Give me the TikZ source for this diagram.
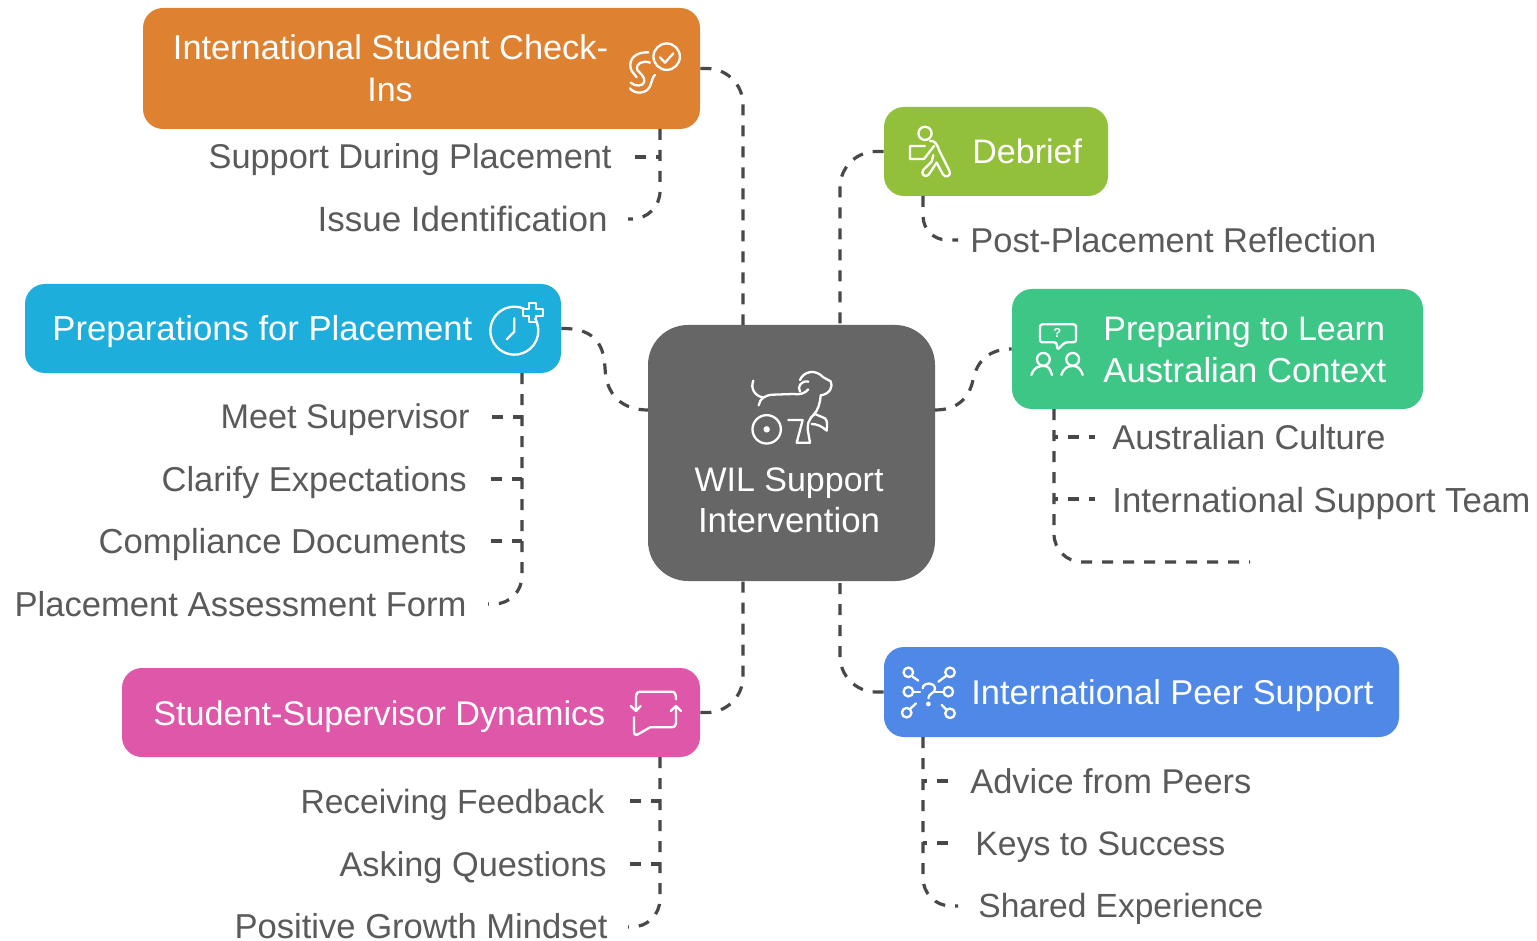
\documentclass[tikz,border=0pt]{standalone}
\usepackage{fontspec}
\usepackage{graphicx}
\setmainfont{Liberation Sans}
\newlength{\fitlen}
\newcommand{\fitw}[2]{\setlength{\fitlen}{#1pt}\resizebox{0.5\fitlen}{!}{#2}}
\begin{document}
\begin{tikzpicture}[x=0.5pt,y=-0.5pt,
  fontbase/.style={font=\fontsize{17pt}{21pt}\selectfont},
  box/.style={rounded corners=10pt,inner sep=0pt,text=white,align=center,fontbase},
  lab/.style={inner sep=0pt,text=labgray,fontbase},
  conn/.style={draw=conngray,line width=1.6pt,dash pattern=on 5.5pt off 5pt,rounded corners=18pt},
  branch/.style={conn,rounded corners=0pt},
  icon/.style={draw=white,line width=1.15pt,line cap=round,line join=round},
  zoomed/.style={x=0.16667pt,y=-0.16667pt}
]
\definecolor{labgray}{HTML}{5A5A5A}
\definecolor{conngray}{HTML}{484848}
\definecolor{corange}{HTML}{DE8231}
\definecolor{cgreen}{HTML}{93C03B}
\definecolor{cblue}{HTML}{1EAEDB}
\definecolor{cteal}{HTML}{3EC687}
\definecolor{chub}{HTML}{666666}
\definecolor{cpink}{HTML}{DF57A8}
\definecolor{cpeer}{HTML}{4F88E6}
\useasboundingbox (0,0) rectangle (1537,941);
\fill[white] (0,0) rectangle (1537,941);

% boxes
\node[box,fill=corange,minimum width=278.5pt,minimum height=60.5pt] (checkin) at (421.5,68.5) {};
\node[box,fill=cgreen,minimum width=112pt,minimum height=44.5pt] (debrief) at (996,151.5) {};
\node[box,fill=cblue,minimum width=268pt,minimum height=44.5pt] (prep) at (293,328.5) {};
\node[box,fill=cteal,minimum width=205.5pt,minimum height=60pt] (learn) at (1217.5,349) {};
\node[box,fill=chub,rounded corners=20pt,minimum width=143.5pt,minimum height=128pt] (hub) at (791.5,453) {};
\node[box,fill=cpink,minimum width=289pt,minimum height=44.5pt] (dyn) at (411,712.5) {};
\node[box,fill=cpeer,minimum width=257.5pt,minimum height=45pt] (peer) at (1141.5,692) {};

% box texts
\node[lab,text=white,anchor=base] (tcheck1) at (390.5,60) {\fitw{435}{International Student Check-}};
\node[lab,text=white,anchor=base] (tcheck2) at (390,102) {Ins};
\node[lab,text=white,anchor=base west] (tdebrief) at (972,164) {Debrief};
\node[lab,text=white,anchor=base west] (tprep) at (52,341) {\fitw{420}{Preparations for Placement}};
\node[lab,text=white,anchor=base west] (tlearn1) at (1103,341) {Preparing to Learn};
\node[lab,text=white,anchor=base west] (tlearn2) at (1103,382) {\fitw{283}{Australian Context}};
\node[lab,text=white,anchor=base] (thub1) at (789,491) {WIL Support};
\node[lab,text=white,anchor=base] (thub2) at (789,532) {\fitw{182}{Intervention}};
\node[lab,text=white,anchor=base west] (tdyn) at (153,725) {\fitw{452}{Student-Supervisor Dynamics}};
\node[lab,text=white,anchor=base west] (tpeer) at (971,704) {\fitw{402}{International Peer Support}};

% labels
\node[lab,anchor=base east] (l1) at (612,169) {\fitw{403}{Support During Placement}};
\node[lab,anchor=base east] (l2) at (608,232) {\fitw{290}{Issue Identification}};
\node[lab,anchor=base west] (l3) at (970,252) {\fitw{406}{Post-Placement Reflection}};
\node[lab,anchor=base east] (l4) at (470,429) {\fitw{249}{Meet Supervisor}};
\node[lab,anchor=base east] (l5) at (467,491) {\fitw{305}{Clarify Expectations}};
\node[lab,anchor=base east] (l6) at (467,553) {\fitw{368}{Compliance Documents}};
\node[lab,anchor=base east] (l7) at (467,616) {\fitw{452}{Placement Assessment Form}};
\node[lab,anchor=base west] (l8) at (1112,449) {\fitw{273}{Australian Culture}};
\node[lab,anchor=base west] (l9) at (1112,512) {\fitw{418}{International Support Team}};
\node[lab,anchor=base east] (l10) at (605,813) {\fitw{304}{Receiving Feedback}};
\node[lab,anchor=base east] (l11) at (607,876) {\fitw{267}{Asking Questions}};
\node[lab,anchor=base east] (l12) at (608,938) {\fitw{373}{Positive Growth Mindset}};
\node[lab,anchor=base west] (l13) at (970,793) {\fitw{281}{Advice from Peers}};
\node[lab,anchor=base west] (l14) at (975,855) {\fitw{250}{Keys to Success}};
\node[lab,anchor=base west] (l15) at (978,917) {\fitw{285}{Shared Experience}};

% junction coordinates
\coordinate (hubTL) at (743,325);
\coordinate (hubTR) at (840,325);
\coordinate (hubBL) at (743,581);
\coordinate (hubBR) at (840,581);
\coordinate (hubW) at (648,410);
\coordinate (hubE) at (935,410);
\coordinate (ckS) at (660,129);
\coordinate (dbS) at (923,196);
\coordinate (prS) at (522,373);
\coordinate (lnS) at (1054,409);
\coordinate (dyS) at (660,757);
\coordinate (peS) at (923,737);
\coordinate (e1) at (635,157);  \coordinate (e2) at (628,219);
\coordinate (e3) at (958,240);
\coordinate (e4) at (492,417);  \coordinate (e5) at (491,479);
\coordinate (e6) at (491,541);  \coordinate (e7) at (488,604);
\coordinate (e8) at (1095,437); \coordinate (e9) at (1095,499);
\coordinate (e16) at (1250,562);
\coordinate (e10) at (630,801); \coordinate (e11) at (630,864);
\coordinate (e12) at (628,927);
\coordinate (e13) at (955,781); \coordinate (e14) at (955,843);
\coordinate (e15) at (958,906);

% main connectors
\draw[conn] (checkin.east) -| (hubTL);
\draw[conn] (debrief.west) -| (hubTR);
\draw[branch] (prep.east) .. controls (590,328) and (604,340) .. (605,368) .. controls (606,395) and (622,410) .. (hubW);
\draw[branch] (hubE) .. controls (960,410) and (970,395) .. (973,380) .. controls (977,360) and (990,349) .. (learn.west);
\draw[conn] (dyn.east) -| (hubBL);
\draw[conn] (peer.west) -| (hubBR);

% sub connectors
\draw[conn,rounded corners=14pt] (ckS) |- (e2);
\draw[branch] (e1) -- (ckS |- e1);
\draw[conn,rounded corners=12pt] (dbS) |- (e3);
\draw[conn,rounded corners=14pt] (prS) |- (e7);
\draw[branch] (e4) -- (prS |- e4);
\draw[branch] (e5) -- (prS |- e5);
\draw[branch] (e6) -- (prS |- e6);
\draw[conn,rounded corners=14pt] (lnS) |- (e16);
\draw[branch,dash phase=3.5pt] (lnS |- e8) -- (e8);
\draw[branch,dash phase=3.5pt] (lnS |- e9) -- (e9);
\draw[conn,rounded corners=14pt] (dyS) |- (e12);
\draw[branch] (e10) -- (dyS |- e10);
\draw[branch] (e11) -- (dyS |- e11);
\draw[conn,rounded corners=14pt] (peS) |- (e15);
\draw[branch,dash phase=3.5pt] (peS |- e13) -- (e13);
\draw[branch,dash phase=3.5pt] (peS |- e14) -- (e14);

% ear + check icon
\begin{scope}[shift={(600,20)},zoomed]
\draw[icon] (200,110) circle (6.6pt);
\draw[icon] (180,112) -- (195,128) -- (220,100);
\draw[icon] (145,97) .. controls (110,95) and (85,115) .. (92,145) .. controls (95,158) and (105,162) .. (110,172);
\draw[icon] (150,128) .. controls (130,120) and (105,130) .. (112,150) .. controls (120,160) and (135,170) .. (133,185) .. controls (130,200) and (105,200) .. (92,188);
\draw[icon] (165,165) .. controls (150,175) and (160,215) .. (120,218) .. controls (105,218) and (95,212) .. (90,205);
\end{scope}
% person + box icon
\begin{scope}[shift={(600,20)},zoomed]
\draw[icon] (975,340) circle (3.3pt);
\draw[icon] (975,378) -- (930,378) -- (930,417) -- (972,417) -- (1002,378);
\draw[icon] (990,363) .. controls (1005,360) and (1012,375) .. (1018,392) -- (1048,452) .. controls (1055,470) and (1035,475) .. (1028,462) -- (1010,428) -- (985,465) .. controls (975,475) and (960,460) .. (970,450) -- (995,425) -- (1000,405);
\end{scope}
% clock plus icon
\begin{scope}[shift={(480,290)},zoomed]
\draw[icon] ([shift={(65:12pt)}]103,122) arc[start angle=65,end angle=390,radius=12pt];
\draw[icon] (103,85) -- (103,125) -- (80,148);
\draw[icon] (147,40) -- (167,40) -- (167,58) -- (188,58) -- (188,78) -- (167,78) -- (167,97) -- (147,97) -- (147,78) -- (128,78) -- (128,58) -- (147,58) -- cycle;
\end{scope}
% dog on wheels icon
\begin{scope}[shift={(480,290)},zoomed]
\draw[icon] (820,272) .. controls (810,295) and (825,318) .. (848,322);
\draw[icon] (836,346) .. controls (840,325) and (855,315) .. (880,314) -- (940,312) .. controls (960,315) and (975,310) .. (985,298);
\draw[icon] (985,275) .. controls (965,270) and (950,290) .. (960,305);
\draw[icon] (960,270) .. controls (970,245) and (1005,235) .. (1030,262) -- (1052,274) .. controls (1060,290) and (1050,312) .. (1022,316) .. controls (1020,340) and (1015,360) .. (1000,375);
\draw[icon] (860,418) circle (7.1pt);
\fill[white] (860,418) circle (1.6pt);
\draw[icon] (925,390) -- (968,390) -- (950,458) -- (990,458) -- (985,430) .. controls (980,405) and (985,385) .. (1005,372) -- (1035,385) .. controls (1045,395) and (1040,410) .. (1040,422) .. controls (1025,408) and (1010,402) .. (995,402);
\end{scope}
% question + people icon
\begin{scope}[shift={(930,290)},zoomed]
\draw[icon,rounded corners=1.2pt] (330,103) -- (438,103) -- (438,157) -- (405,157) -- (382,180) -- (380,157) -- (330,157) -- cycle;
\node[inner sep=0pt,text=white,font=\bfseries\fontsize{6.5pt}{6.5pt}\selectfont] (qmark) at (382,130) {?};
\draw[icon] (340,208) circle (3.2pt);
\draw[icon] (304,255) .. controls (312,232) and (325,228) .. (340,228) .. controls (355,228) and (358,232) .. (366,255);
\draw[icon] (428,208) circle (3.2pt);
\draw[icon] (394,255) .. controls (402,232) and (415,228) .. (428,228) .. controls (441,228) and (450,232) .. (458,255);
\end{scope}
% chat loop icon
\begin{scope}[shift={(600,640)},zoomed]
\draw[icon] (108,212) -- (108,172) .. controls (108,160) and (112,155) .. (122,155) -- (215,155) .. controls (225,155) and (228,162) .. (228,178);
\draw[icon] (92,198) -- (108,213) -- (122,198);
\draw[icon] (212,213) -- (228,198) -- (243,213);
\draw[icon] (228,198) -- (228,250) .. controls (228,258) and (222,262) .. (215,262) -- (150,262) -- (112,284) .. controls (105,287) and (102,283) .. (102,275) -- (102,232);
\end{scope}
% network icon
\begin{scope}[shift={(600,640)},zoomed]
\foreach \px/\py in {925/97,1050/97,925/155,1045/155,920/218,1050/220}
  \draw[icon] (\px,\py) circle (2.4pt);
\draw[icon] (938,110) -- (955,122);
\draw[icon] (1038,108) -- (1015,125);
\draw[icon] (938,155) -- (960,155);
\draw[icon] (1005,155) -- (1032,155);
\draw[icon] (932,205) -- (948,190);
\draw[icon] (1025,195) -- (1040,210);
\draw[icon] (968,145) .. controls (970,125) and (1005,125) .. (1005,147) .. controls (1005,160) and (985,160) .. (985,175);
\fill[white] (985,192) circle (1.2pt);
\end{scope}
\end{tikzpicture}
\end{document}
